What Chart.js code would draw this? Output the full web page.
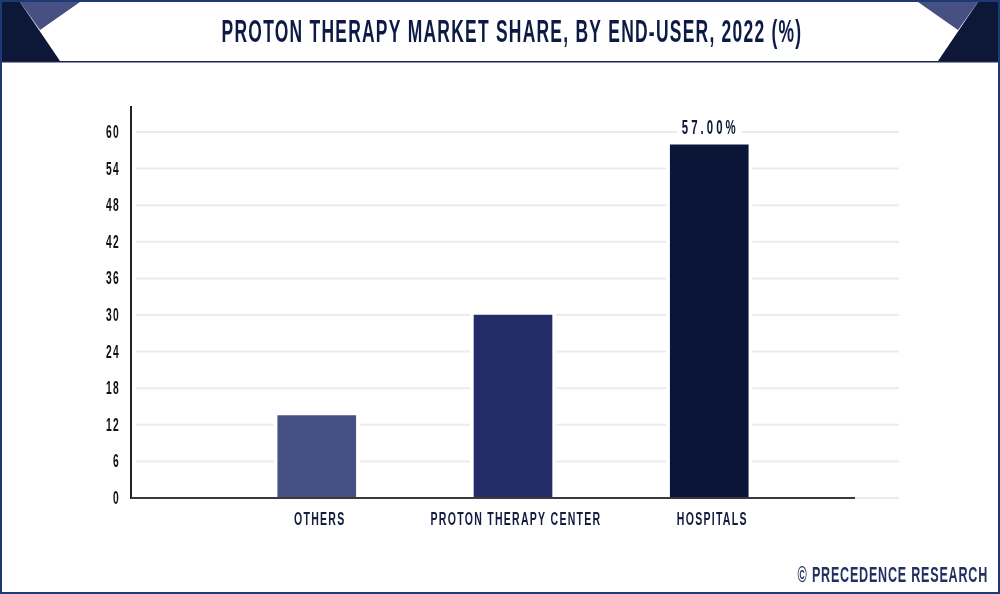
<!DOCTYPE html>
<html><head><meta charset="utf-8">
<style>html,body{margin:0;padding:0;background:#fff}canvas{display:block}</style>
<script src="https://cdn.jsdelivr.net/npm/chart.js@4"></script>
</head><body>
<canvas id="c" width="1000" height="594"></canvas>
<script>
const FONT = '"Liberation Sans",sans-serif';
const categories = ['OTHERS', 'PROTON THERAPY CENTER', 'HOSPITALS'];
const values = [13.5, 30, 57.9];
const valueLabels = ['', '', '57.00%'];
const barColors = ['#465082', '#232c66', '#0b1538'];
const yTicks = [0, 6, 12, 18, 24, 30, 36, 42, 48, 54, 60];
const titleText = 'PROTON THERAPY MARKET SHARE, BY END-USER, 2022 (%)';
const creditText = '© PRECEDENCE RESEARCH';
const NARROW = 0.57;

function poly(ctx, pts, color) {
  ctx.fillStyle = color; ctx.beginPath();
  pts.forEach((p, i) => i ? ctx.lineTo(p[0], p[1]) : ctx.moveTo(p[0], p[1]));
  ctx.closePath(); ctx.fill();
}
const decor = {
  id: 'decor',
  beforeInit(chart) {
    const c = chart.ctx, orig = c.fillText;
    c.fillText = function (t, x, y, m) {
      this.save(); this.translate(x, y + 1); this.scale(NARROW, 1);
      orig.call(this, t, 0, 0);
      this.restore();
    };
  },
  beforeDraw(chart) {
    const c = chart.ctx;
    c.save();
    c.fillStyle = '#fff'; c.fillRect(0, 0, 1000, 594);
    c.fillStyle = '#1c2450'; c.fillRect(0, 61, 1000, 1.5);
    poly(c, [[2,2],[20,2],[60,61],[2,61]], '#0d1738');
    poly(c, [[20,2],[80,2],[40,30]], '#465082');
    poly(c, [[998,2],[978,2],[938,61],[998,61]], '#0d1738');
    poly(c, [[978,2],[918,2],[958,30]], '#465082');
    c.restore();
    c.letterSpacing = '2.2px';
  },
  beforeDatasetsDraw(chart) {
    const c = chart.ctx, y = chart.scales.y;
    c.save();
    c.strokeStyle = '#ececec'; c.lineWidth = 2;
    yTicks.forEach(v => {
      const p = y.getPixelForValue(v);
      c.beginPath(); c.moveTo(136, p); c.lineTo(899, p); c.stroke();
    });
    c.fillStyle = '#fff';
    chart.getDatasetMeta(0).data.forEach(b => {
      c.fillRect(b.x - b.width / 2 - 4, b.y - 4, b.width + 8, b.base - b.y + 2);
    });
    c.restore();
  },
  afterDatasetsDraw(chart) {
    const c = chart.ctx, y = chart.scales.y;
    const zero = y.getPixelForValue(0);
    c.save();
    c.strokeStyle = '#3a3a3a'; c.lineWidth = 2;
    c.beginPath(); c.moveTo(chart.chartArea.left, zero); c.lineTo(855, zero); c.stroke();
    c.textAlign = 'center'; c.textBaseline = 'middle';
    c.font = 'bold 20px ' + FONT;
    c.letterSpacing = '5.3px';
    chart.getDatasetMeta(0).data.forEach((b, i) => {
      const t = valueLabels[i];
      if (!t) return;
      const w = c.measureText(t).width * NARROW + 8;
      c.fillStyle = '#fff'; c.fillRect(b.x - w / 2, b.y - 27, w, 20);
      c.fillStyle = '#0d1738'; c.fillText(t, b.x + 1, b.y - 17);
    });
    c.textAlign = 'right';
    c.font = 'bold 22px ' + FONT;
    c.letterSpacing = '1.4px';
    c.fillStyle = '#24305f';
    c.fillText(creditText, 988, 575);
    c.restore();
    c.save();
    c.fillStyle = '#1d3a74';
    c.fillRect(0, 0, 1000, 2); c.fillRect(0, 592, 1000, 2);
    c.fillRect(0, 0, 2, 594); c.fillRect(998, 0, 2, 594);
    c.restore();
  }
};

new Chart(document.getElementById('c'), {
  type: 'bar',
  data: {
    labels: categories,
    datasets: [{
      data: values.map((v, i) => ({ x: i, y: v })),
      backgroundColor: barColors,
      barThickness: 78,
      borderWidth: 0
    }]
  },
  plugins: [decor],
  options: {
    responsive: false,
    animation: false,
    devicePixelRatio: 1,
    layout: { padding: { left: 24 } },
    plugins: {
      legend: { display: false },
      tooltip: { enabled: false },
      title: {
        display: true, text: titleText, color: '#0d1a45',
        font: { family: FONT, size: 30.6, weight: 'bold', lineHeight: 1 },
        padding: { top: 17, bottom: 59.4 }
      }
    },
    scales: {
      x: {
        type: 'linear', offset: false,
        min: -0.9465, max: 3.4815,
        grid: { display: false, drawTicks: false },
        border: { display: false },
        afterBuildTicks(s) { s.ticks = categories.map((_, i) => ({ value: i })); },
        afterFit(s) { s.height = 96; },
        ticks: {
          autoSkip: false, maxRotation: 0, padding: 10, labelOffset: 3,
          color: '#141c40',
          font: { family: FONT, size: 18.5, weight: 'bold' },
          callback: v => categories[v]
        }
      },
      y: {
        min: 0, max: 64.1,
        grid: { display: false, drawTicks: false },
        border: { display: true, color: '#222', width: 2 },
        afterBuildTicks(s) { s.ticks = yTicks.map(v => ({ value: v })); },
        afterFit(s) { s.width = 107; },
        ticks: {
          padding: 11, color: '#111',
          font: { family: FONT, size: 18, weight: 'bold' }
        }
      }
    }
  }
});
</script>
</body></html>
